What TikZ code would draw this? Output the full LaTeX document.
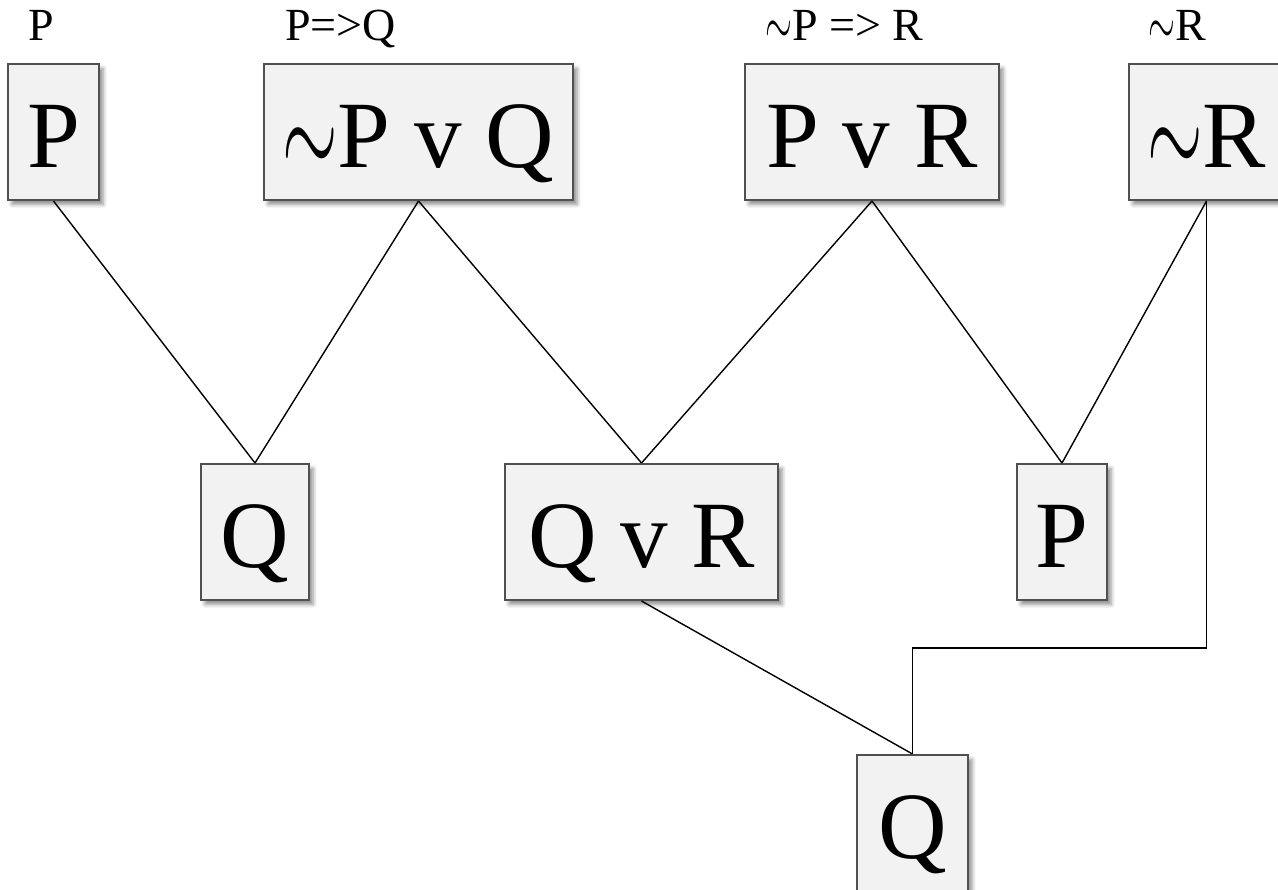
\RequirePackage{fix-cm}
\documentclass[tikz,border=0pt]{standalone}
\usepackage{fontspec}
\setmainfont{Liberation Serif}
\usetikzlibrary{shadows.blur}
\definecolor{boxfill}{RGB}{242,242,242}
\definecolor{boxline}{RGB}{80,80,80}
\newcommand{\tld}{\raisebox{-0.1em}{\scalebox{0.75}[1.4]{$\sim$}}}
\begin{document}
\begin{tikzpicture}[x=0.5pt,y=-0.5pt,
  stmt/.style={draw=boxline, line width=1pt, fill=boxfill, inner sep=0pt,
    minimum height=68pt, text height=35pt, text depth=0pt,
    font=\fontsize{47.5}{50}\selectfont,
    blur shadow={shadow xshift=2pt, shadow yshift=-2.2pt, shadow blur radius=2pt, shadow opacity=45}},
  lbl/.style={anchor=base, inner sep=0pt, font=\fontsize{23}{25}\selectfont},
  link/.style={draw=black, line width=0.7pt}]
\useasboundingbox (0,0) rectangle (1278,889);
% top row
\node[stmt, minimum width=45.5pt] (p1) at (53.5,132) {P};
\node[stmt, minimum width=154.5pt] (npq) at (418.5,132) {\tld P v Q};
\node[stmt, minimum width=127pt] (pr) at (872,132) {P v R};
\node[stmt, minimum width=77.5pt] (nr) at (1206.5,132) {\tld R};
% middle row
\node[stmt, minimum width=54pt] (q1) at (255,532) {Q};
\node[stmt, minimum width=136.5pt] (qr) at (641.5,532) {Q v R};
\node[stmt, minimum width=45pt] (p2) at (1062,532) {P};
% bottom
\node[stmt, minimum width=55.5pt] (q2) at (912.5,823) {Q};
% labels
\node[lbl] (l1) at (41,40) {P};
\node[lbl] (l2) at (340.5,40) {P=>Q};
\node[lbl] (l3) at (844.5,40) {\tld P => R};
\node[lbl] (l4) at (1177.5,40) {\tld R};
% connectors
\coordinate (bend) at (1206.5,648);
\path[link] (p1.south) -- (q1.north);
\path[link] (npq.south) -- (q1.north);
\path[link] (npq.south) -- (qr.north);
\path[link] (pr.south) -- (qr.north);
\path[link] (pr.south) -- (p2.north);
\path[link] (nr.south) -- (p2.north);
\path[link] (qr.south) -- (q2.north);
\path[link] (nr.south) -- (bend) -| (q2.north);
\end{tikzpicture}
\end{document}
